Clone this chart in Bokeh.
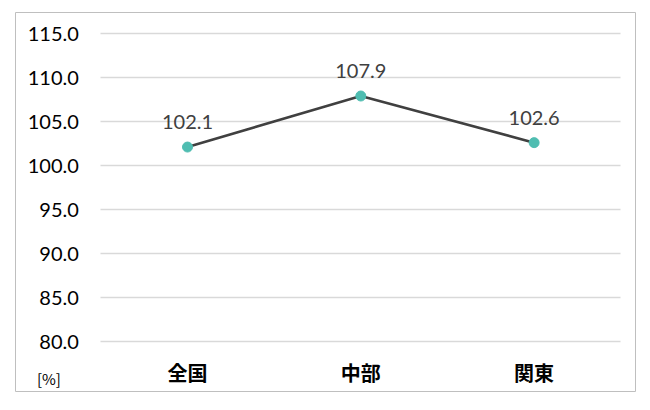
from bokeh.core.properties import value
from bokeh.embed import file_html
from bokeh.models import ColumnDataSource, FixedTicker, Range1d
from bokeh.plotting import figure
from bokeh.resources import INLINE

regions = ["全国", "中部", "関東"]
rates = [102.1, 107.9, 102.6]
rate_labels = ["102.1", "107.9", "102.6"]
y_ticks = [80, 85, 90, 95, 100, 105, 110, 115]
y_tick_labels = ["80.0", "85.0", "90.0", "95.0", "100.0", "105.0", "110.0", "115.0"]
unit_label = "[%]"

xs = list(range(len(regions)))
source = ColumnDataSource(data=dict(x=xs, rate=rates, label=rate_labels))

# frame = the grey box of the chart; plot area sits inside it
p = figure(
    x_range=Range1d(-0.9925, 2.585), y_range=Range1d(74.32, 117.39),
    width=640, height=394,
    output_backend="svg", toolbar_location=None, tools="",
    min_border_left=15, min_border_right=5, min_border_top=12, min_border_bottom=3,
)
p.outline_line_color = "#bfbfbf"
p.outline_line_width = 1
p.background_fill_color = "white"
p.border_fill_color = "white"

p.xgrid.grid_line_color = None
p.ygrid.grid_line_color = "#d9d9d9"
p.ygrid.grid_line_width = 1.3
p.ygrid.cross_bounds = (-0.5, len(regions) - 0.5)

p.yaxis.ticker = FixedTicker(ticks=y_ticks)
p.yaxis.major_label_overrides = dict(zip(y_ticks, y_tick_labels))
p.yaxis.fixed_location = -0.5
p.xaxis.ticker = FixedTicker(ticks=xs)
p.xaxis.major_label_overrides = dict(zip(xs, regions))
p.xaxis.fixed_location = y_ticks[0]
for ax in (p.xaxis[0], p.yaxis[0]):
    ax.axis_line_color = None
    ax.major_tick_line_color = None
    ax.minor_tick_line_color = None
    ax.major_tick_out = 0
    ax.major_tick_in = 0
p.yaxis.major_label_text_font = "Lato"
p.yaxis.major_label_text_font_size = "20px"
p.yaxis.major_label_text_color = "#000000"
p.yaxis.major_label_standoff = 22
p.xaxis.major_label_text_font = "Noto Sans CJK JP"
p.xaxis.major_label_text_font_style = "bold"
p.xaxis.major_label_text_font_size = "20px"
p.xaxis.major_label_text_color = "#000000"
p.xaxis.major_label_standoff = 16

p.line("x", "rate", source=source, line_color="#404040", line_width=2.6)
p.scatter("x", "rate", source=source, size=10, fill_color="#4fbdb1", line_color="#4fbdb1")
p.text("x", "rate", text="label", source=source,
       text_font=value("Lato"), text_font_size="20px", text_color="#404040",
       text_align="center", text_baseline="middle", y_offset=-25)

p.text(x=[-0.80], y=[75.8], text=[unit_label],
       text_font=value("Noto Sans CJK JP"), text_font_size="15px", text_color="#000000",
       text_align="center", text_baseline="middle")

open("out.html", "w").write(file_html(p, INLINE))
